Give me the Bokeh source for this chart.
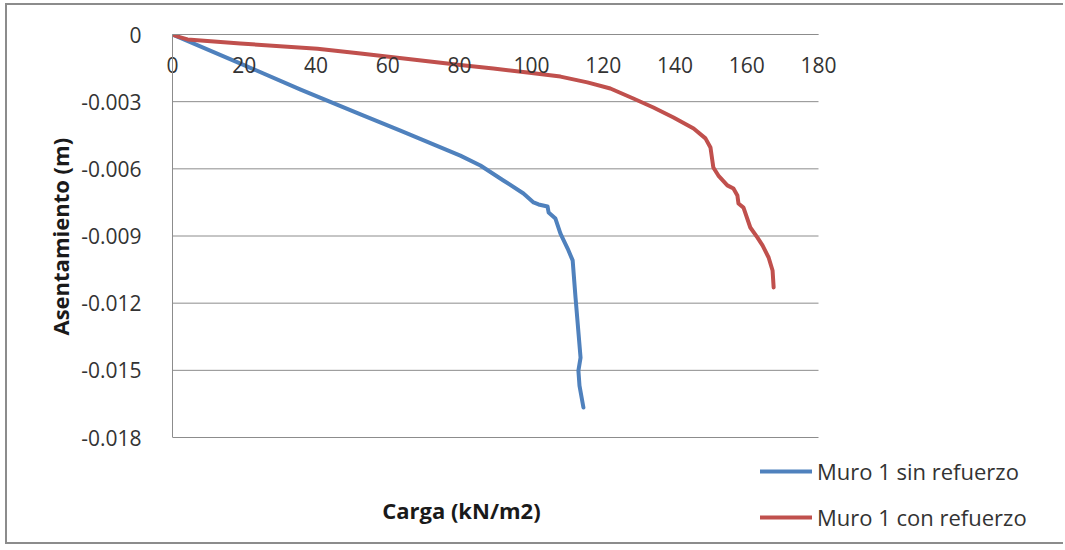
from bokeh.plotting import figure
from bokeh.models import (ColumnDataSource, LinearAxis, Legend, LegendItem,
                          Label, FixedTicker, Range1d, Title)
from bokeh.embed import file_html
from bokeh.resources import INLINE

# Load (kN/m2) vs settlement (m) for wall 1
carga_sin = [0, 20.1, 35.7, 52.4, 63.5, 80.2, 85.8, 92.2, 97.8, 100.6, 102.0,
             104.5, 104.8, 106.7, 108.1, 110.1, 111.5, 112.3, 113.7, 113.1,
             113.4, 114.5]
asent_sin = [0, -0.00138, -0.00246, -0.00357, -0.00429, -0.00541, -0.00585,
             -0.00652, -0.00710, -0.00750, -0.00759, -0.00768, -0.00795,
             -0.00822, -0.00889, -0.00956, -0.01009, -0.01175, -0.01443,
             -0.01501, -0.01568, -0.01666]

carga_con = [0, 2.0, 4.2, 18.9, 40.4, 52.4, 80.2, 89.4, 98.9, 108.1, 115.6,
             122.0, 128.4, 134.0, 139.6, 145.2, 148.5, 149.9, 150.7, 152.1,
             154.6, 156.3, 157.4, 157.7, 159.1, 161.0, 163.0, 164.4, 166.1,
             167.2, 167.5]
asent_con = [0, -0.00012, -0.00022, -0.00040, -0.00064, -0.00085, -0.00136,
             -0.00152, -0.00170, -0.00188, -0.00214, -0.00241, -0.00286,
             -0.00326, -0.00371, -0.00420, -0.00464, -0.00505, -0.00594,
             -0.00630, -0.00674, -0.00688, -0.00719, -0.00755, -0.00773,
             -0.00862, -0.00907, -0.00942, -0.00996, -0.01054, -0.01130]

x_ticks = [0, 20, 40, 60, 80, 100, 120, 140, 160, 180]
y_ticks = [0, -0.003, -0.006, -0.009, -0.012, -0.015, -0.018]

serie_sin = "Muro 1 sin refuerzo"
serie_con = "Muro 1 con refuerzo"
titulo_x = "Carga (kN/m2)"
titulo_y = "Asentamiento (m)"

FONT = "Open Sans"
TXT = "#333333"
TITLE_C = "#1a1a1a"
GRID = "#8c8c8c"

# Axis extents and the pixel box they occupy; the frame runs on past them
# to the right and bottom so the legend and x title sit inside it.
X_MAX, Y_MIN = x_ticks[-1], y_ticks[-1]
AXIS_W, AXIS_H = 646, 403
W, H = 1058, 541
LEFT, TOP = 165, 29
frame_w, frame_h = W - LEFT, H - TOP

p = figure(width=W, height=H, output_backend="svg", toolbar_location=None,
           x_range=Range1d(0, X_MAX * frame_w / AXIS_W),
           y_range=Range1d(Y_MIN * frame_h / AXIS_H, 0),
           x_axis_location=None, y_axis_location=None,
           min_border_left=LEFT, min_border_right=0,
           min_border_top=TOP, min_border_bottom=0)
p.styles = {"margin-left": "5px", "margin-top": "3px",
            "border-top": "2px solid #8c8c8c",
            "border-left": "2px solid #8c8c8c",
            "border-bottom": "2px solid #8c8c8c"}
p.outline_line_color = None
p.background_fill_color = "white"
p.border_fill_color = "white"
p.xgrid.visible = False
p.ygrid.visible = False

# x axis sits on the zero line at the top, labels hang below it
xax = LinearAxis(ticker=FixedTicker(ticks=x_ticks), bounds=(0, X_MAX))
xax.axis_line_color = GRID
xax.major_tick_line_color = None
xax.minor_tick_line_color = None
xax.major_label_standoff = -44
xax.major_label_text_font = FONT
xax.major_label_text_font_size = "21px"
xax.major_label_text_color = TXT
p.add_layout(xax, "above")

yax = LinearAxis(ticker=FixedTicker(ticks=y_ticks), bounds=(Y_MIN, 0))
yax.axis_line_color = GRID
yax.major_tick_line_color = None
yax.minor_tick_line_color = None
yax.major_label_standoff = 25
yax.major_label_text_font = FONT
yax.major_label_text_font_size = "21px"
yax.major_label_text_color = TXT
yax.major_label_overrides = {t: ("0" if t == 0 else f"{t:.3f}") for t in y_ticks}
p.add_layout(yax, "left")

# y title centred on the axis span rather than on the whole frame
p.add_layout(Title(text=titulo_y, align="left", offset=211, text_font=FONT,
                   text_font_size="22px", text_font_style="bold",
                   text_color=TITLE_C, standoff=8), "left")

# horizontal gridlines, limited to the axis extent
p.segment(x0=[0] * len(y_ticks), x1=[X_MAX] * len(y_ticks),
          y0=y_ticks, y1=y_ticks, line_color=GRID, line_width=1)

src_sin = ColumnDataSource(dict(x=carga_sin, y=asent_sin))
src_con = ColumnDataSource(dict(x=carga_con, y=asent_con))
r_sin = p.line("x", "y", source=src_sin, line_color="#4F81BD", line_width=4,
               line_join="round", line_cap="round")
r_con = p.line("x", "y", source=src_con, line_color="#C0504D", line_width=4,
               line_join="round", line_cap="round")

p.add_layout(Label(x=80.5, y=-0.02126, text=titulo_x, text_font=FONT,
                   text_font_size="22px", text_font_style="bold",
                   text_color=TITLE_C, text_align="center",
                   text_baseline="middle"))

legend = Legend(items=[LegendItem(label=serie_sin, renderers=[r_sin]),
                       LegendItem(label=serie_con, renderers=[r_con])],
                location=(588, 14), orientation="vertical",
                glyph_width=52, glyph_height=20, label_height=20,
                label_standoff=5, spacing=16, padding=0, margin=0,
                border_line_color=None, background_fill_alpha=0,
                label_text_font=FONT, label_text_font_size="22px",
                label_text_color=TXT)
p.add_layout(legend, "center")

open("out.html", "w").write(file_html(p, INLINE))
